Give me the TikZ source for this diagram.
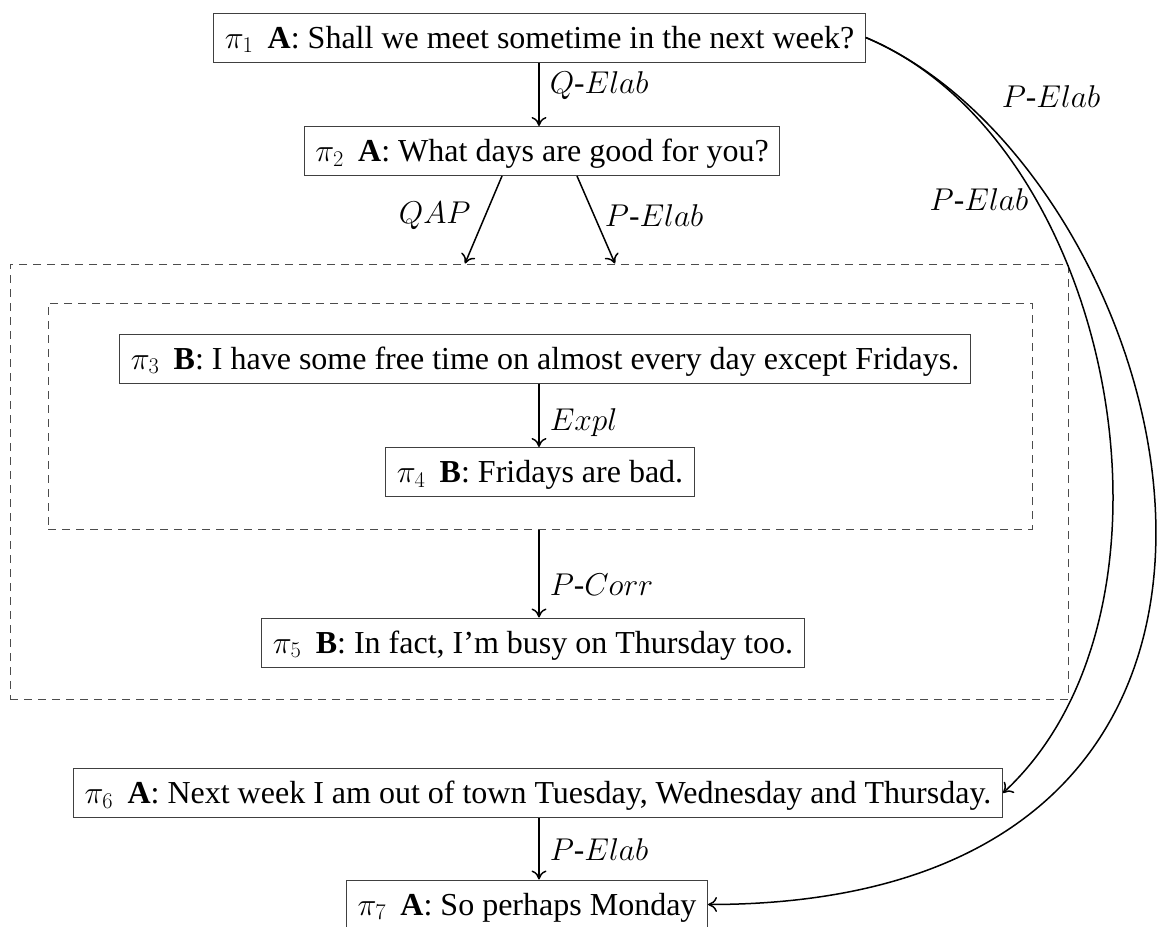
\RequirePackage{fix-cm}
\documentclass[tikz,border=0pt]{standalone}
\usepackage{fontspec}
\setmainfont{Liberation Serif}
\usetikzlibrary{calc,arrows.meta}
\newcommand{\pin}[1]{{\fontsize{32}{38}\selectfont$\pi_{#1}$}}
\begin{document}
\begin{tikzpicture}[x=1pt,y=-1pt,
  every node/.style={font=\fontsize{32}{38}\selectfont},
  utt/.style={draw=black!75, line width=1pt, inner xsep=11pt, inner ysep=0pt,
    minimum height=49pt, text height=25pt, text depth=4pt},
  grp/.style={draw=black!70, dash pattern=on 8pt off 6pt, line width=1pt, inner sep=0pt},
  rel/.style={-{Computer Modern Rightarrow[length=9pt,width=15pt]}, line width=1.5pt},
  lab/.style={inner sep=0pt, font=\fontsize{31.5}{38}\selectfont}
]
\useasboundingbox (0,0) rectangle (1163,927);
\coordinate (ax) at (539,0);

\node[grp, minimum width=1058pt, minimum height=435pt] (outer) at (539,481.5) {};
\node[grp, minimum width=984pt, minimum height=226pt] (inner) at (540,416) {};

\node[utt] (p1) at (539.5,37.5) {\pin{1}\hspace{0.45em}\textbf{A}: Shall we meet sometime in the next week?};
\node[utt] (p2) at (542,151) {\pin{2}\hspace{0.45em}\textbf{A}: What days are good for you?};
\node[utt] (p3) at (545,358.5) {\pin{3}\hspace{0.45em}\textbf{B}: I have some free time on almost every day except Fridays.};
\node[utt] (p4) at (540,472) {\pin{4}\hspace{0.45em}\textbf{B}: Fridays are bad.};
\node[utt] (p5) at (533,642.5) {\pin{5}\hspace{0.45em}\textbf{B}: In fact, I'm busy on Thursday too.};
\node[utt] (p6) at (538,793) {\pin{6}\hspace{0.45em}\textbf{A}: Next week I am out of town Tuesday, Wednesday and Thursday.};
\node[utt] (p7) at (527,904.5) {\pin{7}\hspace{0.45em}\textbf{A}: So perhaps Monday};

\draw[rel] (p1.south -| ax) -- node[lab, right, pos=0.36, xshift=10pt] {$Q$-$Elab$} (p2.north -| ax);
\draw[rel] ($(p2.south)+(-40,0)$) -- node[lab, left, pos=0.45, xshift=-14pt] {$QAP$} ($(outer.north)+(-74,0)$);
\draw[rel] ($(p2.south)+(35,0)$) -- node[lab, right, pos=0.45, xshift=10pt] {$P$-$Elab$} ($(outer.north)+(76,0)$);
\draw[rel] (p3.south -| ax) -- node[lab, right, pos=0.62, xshift=10pt] {$Expl$} (p4.north -| ax);
\draw[rel] (inner.south -| ax) -- node[lab, right, pos=0.63, xshift=10pt] {$P$-$Corr$} (p5.north -| ax);
\draw[rel] (p6.south -| ax) -- node[lab, right, pos=0.52, xshift=10pt] {$P$-$Elab$} (p7.north -| ax);

\draw[rel] (p1.east) .. controls (1115,142) and (1202,609) .. (p6.east);
\draw[rel] (p1.east) .. controls (1180,170) and (1377,904) .. (p7.east);
\node[lab] (l1) at (1051,97) {$P$-$Elab$};
\node[lab] (l2) at (979,200) {$P$-$Elab$};
\end{tikzpicture}
\end{document}
